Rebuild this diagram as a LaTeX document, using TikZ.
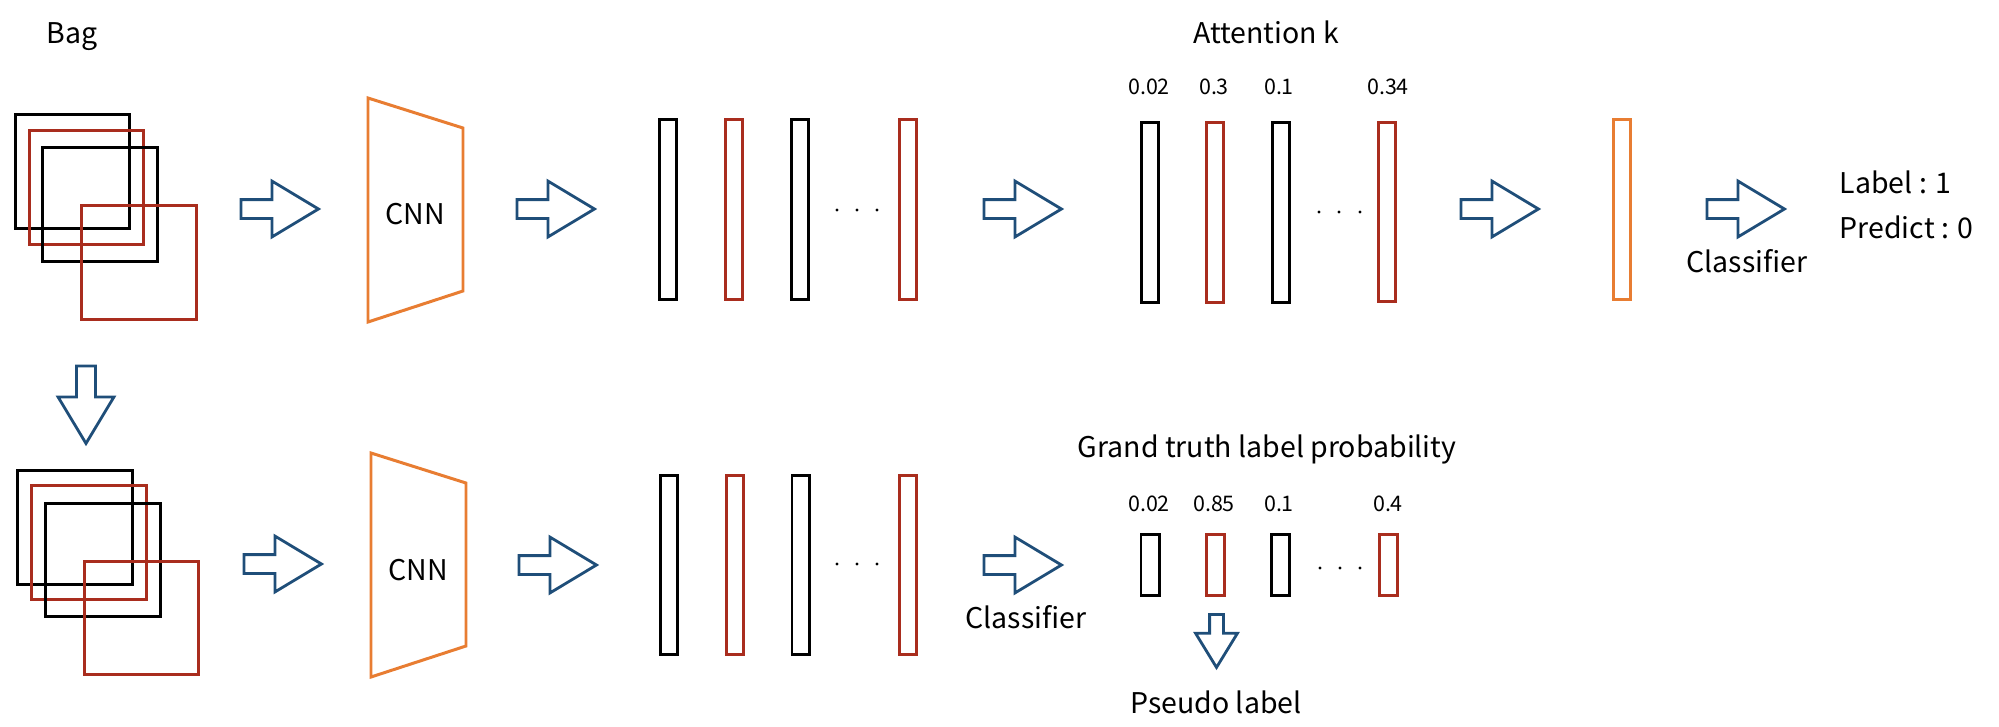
\documentclass[tikz,border=0pt]{standalone}
\usepackage{fontspec}
\setmainfont{Noto Sans CJK JP}
\usepackage{xcolor}
\usetikzlibrary{shapes.arrows}

\definecolor{arrowblue}{RGB}{31,78,121}
\definecolor{featred}{RGB}{169,45,30}
\definecolor{cnnorange}{RGB}{232,125,50}

\tikzset{
	blockarrow/.style={single arrow, draw=arrowblue, line width=0.8pt, inner xsep=0pt, inner ysep=0.08cm,
		minimum height=0.775cm, single arrow head extend=0.185cm, single arrow tip angle=62, anchor=tail},
	smallarrow/.style={single arrow, draw=arrowblue, line width=0.8pt, inner xsep=0pt, inner ysep=0.055cm,
		minimum height=0.53cm, single arrow head extend=0.14cm, single arrow tip angle=63, anchor=tail},
	patch/.style={draw=#1, line width=0.85pt, minimum width=1.14cm, minimum height=1.13cm, inner sep=0pt},
	bar/.style={draw=#1, line width=0.85pt, minimum width=0.17cm, minimum height=1.79cm, inner sep=0pt},
	shortbar/.style={draw=#1, line width=0.85pt, minimum width=0.18cm, minimum height=0.61cm, inner sep=0pt},
	lbl/.style={font=\fontsize{8.1}{10}\selectfont, anchor=base, inner sep=0pt},
	num/.style={font=\fontsize{6.1}{7}\selectfont, anchor=base, inner sep=0pt},
	cnn/.style={draw=cnnorange, line width=0.85pt},
}

\begin{document}
\begin{tikzpicture}[x=0.01cm, y=-0.01cm]
	\useasboundingbox (0,0) rectangle (1999,727);

	% top row
	\node[lbl] (bag) at (72,43) {Bag};
	\node[patch=black] (bagA1) at (72.5,171.5) {};
	\node[patch=featred] (bagA2) at (86.5,187.5) {};
	\node[patch=black] (bagA3) at (100,204.5) {};
	\node[patch=featred] (bagA4) at (139,262.5) {};
	\node[blockarrow] (arrA1) at (239.5,209) {};
	\draw[cnn] (368,98) -- (463,128) -- (463,291) -- (368,322) -- cycle;
	\node[lbl] (cnnA) at (415,224) {CNN};
	\node[blockarrow] (arrA2) at (515.5,209) {};
	\node[bar=black] (featA1) at (668,209.5) {};
	\node[bar=featred] (featA2) at (734,209.5) {};
	\node[bar=black] (featA3) at (800,209.5) {};
	\node[bar=featred] (featA4) at (908,209.5) {};
	\foreach \x in {837,857,877}
		\fill (\x,210) circle (0.016cm);
	\node[blockarrow] (arrA3) at (982.5,209) {};
	\node[lbl] (att) at (1266,43) {Attention k};
	\node[num] (attw1) at (1149,94) {0.02};
	\node[num] (attw2) at (1214,94) {0.3};
	\node[num] (attw3) at (1279,94) {0.1};
	\node[num] (attw4) at (1388,94) {0.34};
	\node[bar=black] (attA1) at (1150,212.5) {};
	\node[bar=featred] (attA2) at (1215,212.5) {};
	\node[bar=black] (attA3) at (1281,212.5) {};
	\node[bar=featred] (attA4) at (1387,212) {};
	\foreach \x in {1319,1339,1360}
		\fill (\x,212) circle (0.016cm);
	\node[blockarrow] (arrA4) at (1459.5,209) {};
	\node[bar=cnnorange] (bagfeat) at (1621.5,209.5) {};
	\node[blockarrow] (arrA5) at (1705.5,209) {};
	\node[lbl] (clsA) at (1747,272) {Classifier};
	\node[lbl, anchor=base west] (label) at (1839,193) {Label : 1};
	\node[lbl, anchor=base west] (pred) at (1839,238) {Predict : 0};

	% bottom row
	\node[blockarrow, rotate=-90] (down) at (86,364.5) {};
	\node[patch=black] (bagB1) at (75,527.5) {};
	\node[patch=featred] (bagB2) at (89,542.5) {};
	\node[patch=black] (bagB3) at (103,560) {};
	\node[patch=featred] (bagB4) at (141.5,618) {};
	\node[blockarrow] (arrB1) at (242.5,564) {};
	\draw[cnn] (371,453) -- (466,483) -- (466,646) -- (371,677) -- cycle;
	\node[lbl] (cnnB) at (418,580) {CNN};
	\node[blockarrow] (arrB2) at (517.5,565) {};
	\node[bar=black] (featB1) at (669,565) {};
	\node[bar=featred] (featB2) at (735,565) {};
	\node[bar=black] (featB3) at (800.5,565) {};
	\node[bar=featred] (featB4) at (908,565) {};
	\foreach \x in {837,857,877}
		\fill (\x,564) circle (0.016cm);
	\node[blockarrow] (arrB3) at (982.5,565) {};
	\node[lbl] (clsB) at (1026,628) {Classifier};
	\node[lbl] (gt) at (1267,457) {Grand truth label probability};
	\node[num] (prob1) at (1149,511) {0.02};
	\node[num] (prob2) at (1214,511) {0.85};
	\node[num] (prob3) at (1279,511) {0.1};
	\node[num] (prob4) at (1388,511) {0.4};
	\node[shortbar=black] (probB1) at (1150,565) {};
	\node[shortbar=featred] (probB2) at (1215.5,565) {};
	\node[shortbar=black] (probB3) at (1280.5,565) {};
	\node[shortbar=featred] (probB4) at (1388,565) {};
	\foreach \x in {1320,1340,1360}
		\fill (\x,568) circle (0.016cm);
	\node[smallarrow, rotate=-90] (pdown) at (1216.5,613) {};
	\node[lbl] (pseudo) at (1216,713) {Pseudo label};
\end{tikzpicture}
\end{document}
